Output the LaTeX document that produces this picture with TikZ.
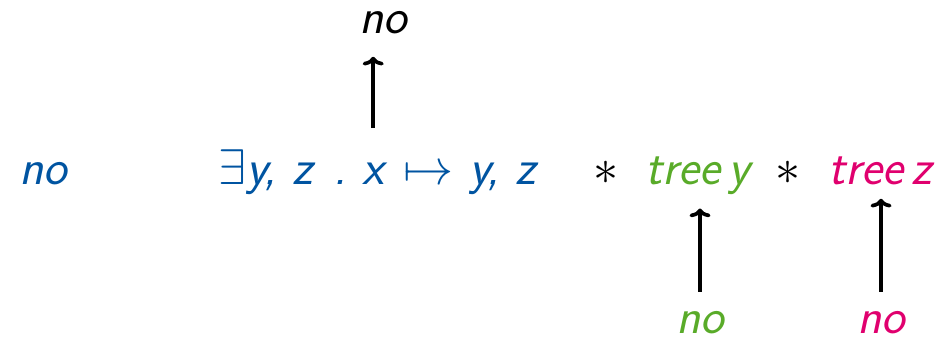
\RequirePackage{fix-cm}
\documentclass[tikz,border=0pt]{standalone}
\usetikzlibrary{arrows.meta,calc}
\DeclareFontShape{OMS}{cmsy}{m}{n}{<->cmsy10}{}
\DeclareFontShape{OML}{cmm}{m}{it}{<->cmmi10}{}
\definecolor{FormClr}{rgb}{0,0.33,0.63}
\definecolor{TreeYClr}{rgb}{0.35,0.67,0.16}
\definecolor{TreeZClr}{rgb}{0.88,0,0.43}

\tikzset{
  txt/.style={inner sep=0pt,anchor=base west,font=\fontsize{28.5}{34}\selectfont\sffamily\itshape},
  pil/.style={-{To[length=5pt,width=12pt]},line width=2.1pt,black}
}

\begin{document}
\begin{tikzpicture}[x=0.02cm,y=-0.02cm]
\useasboundingbox (0,0) rectangle (945,341);

% the formula
\node[txt,color=FormClr] (lno) at (19,184) {no};
\node[txt,color=FormClr] (pre) at (218,184) {$\exists$y, z};
\node[txt,color=FormClr] (dot) at (333,184) {.};
\node[txt,color=FormClr] (x) at (362,184) {x};
\node[txt,color=FormClr] (post) at (403,184) {$\mapsto$\ y, z};
\node[txt,anchor=center] (st1) at (606,173) {$\ast$};
\node[txt,color=TreeYClr] (treey) at (645,184) {tree\,y};
\node[txt,anchor=center] (st2) at (788,173) {$\ast$};
\node[txt,color=TreeZClr] (treez) at (828,184) {tree\,z};

% answers
\node[txt,anchor=base] (xno) at (383,34) {no};
\node[txt,anchor=base,color=TreeYClr] (yno) at (700,333) {no};
\node[txt,anchor=base,color=TreeZClr] (zno) at (881,333) {no};

\draw[pil,shorten <=34*0.02cm,shorten >=22*0.02cm] (x.north) -- (x.north |- xno.south);
\draw[pil,shorten <=19*0.02cm,shorten >=14*0.02cm] (yno.north) -- (yno.north |- treey.south);
\draw[pil,shorten <=19*0.02cm,shorten >=14*0.02cm] (zno.north) -- (zno.north |- treez.south);

\end{tikzpicture}
\end{document}
